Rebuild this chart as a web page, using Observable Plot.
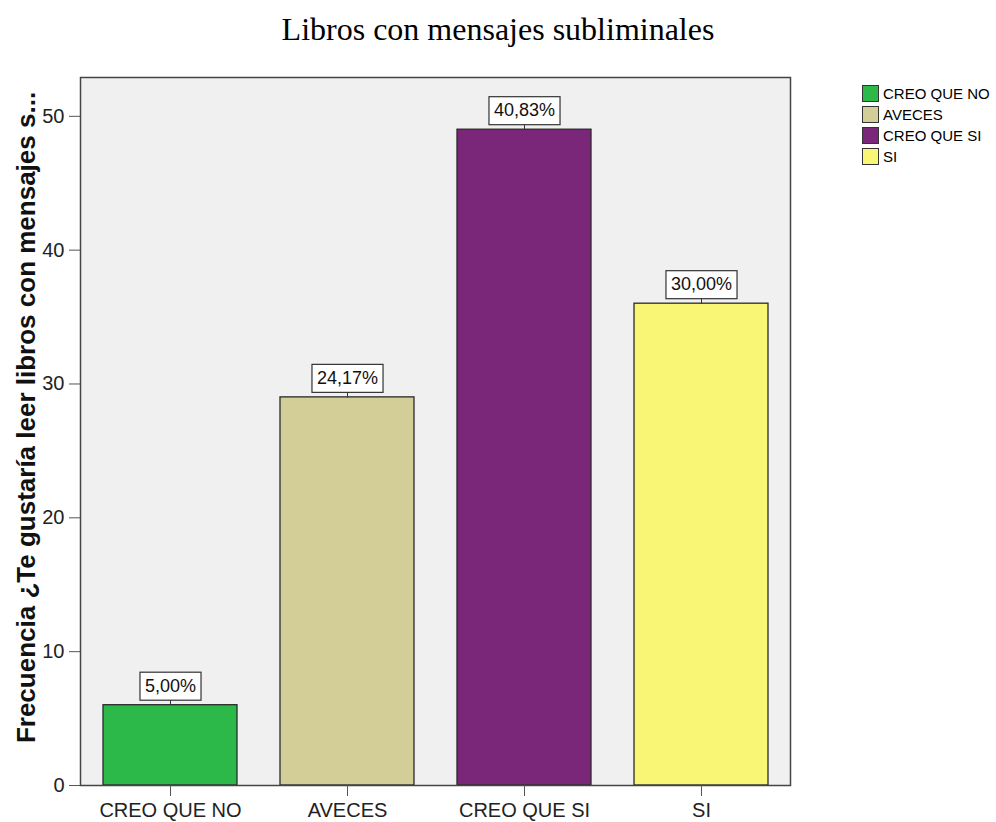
<!DOCTYPE html>
<html>
<head>
<meta charset="utf-8">
<script src="https://cdn.jsdelivr.net/npm/d3@7"></script>
<script src="https://cdn.jsdelivr.net/npm/@observablehq/plot@0.6"></script>
<style>
  body { margin: 0; background: #fff; font-family: "Liberation Sans", Arial, sans-serif; }
  #wrap { position: relative; width: 996px; height: 822px; }
  #title { height: 56px; width: 996px; text-align: center; font-family: "Liberation Serif", "Times New Roman", serif; font-size: 32px; line-height: 32px; padding-top: 13px; box-sizing: border-box; color: #000; }
  #legend { position: absolute; left: 862px; top: 83px; font-size: 15px; color: #000; }
  .item { display: flex; align-items: center; height: 21px; }
  .sw { width: 15px; height: 15px; border: 1px solid #333; margin-right: 4px; }
  svg { display: block; }
</style>
</head>
<body>
<div id="wrap">
  <div id="title">Libros con mensajes subliminales</div>
  <div id="chart"></div>
  <div id="legend"></div>
</div>
<script>
const categories = ["CREO QUE NO", "AVECES", "CREO QUE SI", "SI"];
const frequencies = [6, 29, 49, 36];
const percentLabels = ["5,00%", "24,17%", "40,83%", "30,00%"];
const colors = ["#2db84a", "#d3ce97", "#7b2779", "#f9f676"];
const yTicks = [0, 10, 20, 30, 40, 50];
const yTitle = "Frecuencia ¿Te gustaría leer libros con mensajes s...";

const data = categories.map((c, i) => ({cat: c, value: frequencies[i], label: percentLabels[i]}));

const FONT = '"Liberation Sans", Arial, sans-serif';
const LABEL_FS = 18, BOX_H = 28, GAP = 5, PAD = 5;

function boxedLabels(data, options) {
  return Plot.text(data, {
    ...options,
    render(index, scales, values, dimensions, context, next) {
      const g = next(index, scales, values, dimensions, context);
      const ctx = document.createElement("canvas").getContext("2d");
      ctx.font = `${LABEL_FS}px ${FONT}`;
      const texts = Array.from(g.querySelectorAll("text"));
      texts.forEach((t, j) => {
        const i = index[j];
        const X = values.x[i], Y = values.y[i];
        const w = ctx.measureText(t.textContent).width + 2 * PAD;
        const ns = "http://www.w3.org/2000/svg";
        const r = document.createElementNS(ns, "rect");
        r.setAttribute("x", X - w / 2);
        r.setAttribute("y", Y - BOX_H / 2);
        r.setAttribute("width", w);
        r.setAttribute("height", BOX_H);
        r.setAttribute("fill", "#fff");
        r.setAttribute("stroke", "#333");
        r.setAttribute("stroke-width", 1.2);
        const l = document.createElementNS(ns, "line");
        l.setAttribute("x1", X); l.setAttribute("x2", X);
        l.setAttribute("y1", Y + BOX_H / 2); l.setAttribute("y2", Y + BOX_H / 2 + GAP);
        l.setAttribute("stroke", "#333");
        t.parentNode.insertBefore(r, t);
        t.parentNode.insertBefore(l, t);
      });
      return g;
    }
  });
}

const chart = Plot.plot({
  width: 996,
  height: 766,
  marginLeft: 80,
  marginRight: 206,
  marginTop: 21,
  marginBottom: 37,
  style: {fontFamily: FONT, background: "transparent", overflow: "visible"},
  x: {domain: categories, paddingInner: 0.245, paddingOuter: 0.1225, label: null},
  y: {domain: [0, 52.9], label: null},
  color: {domain: categories, range: colors},
  marks: [
    Plot.frame({fill: "#f0f0f0", stroke: null}),
    Plot.barY(data, {x: "cat", y: "value", fill: "cat", stroke: "#2a2a2a", strokeWidth: 1.3}),
    Plot.frame({stroke: "#444", strokeWidth: 1.5}),
    Plot.axisY({ticks: yTicks, tickSize: 11, tickPadding: 5, fontSize: 20, stroke: "#555", fill: "#222", label: null}),
    Plot.axisX({tickSize: 11, tickPadding: 6, fontSize: 20, stroke: "#555", fill: "#222", label: null}),
    boxedLabels(data, {x: "cat", y: "value", text: "label", dy: -(GAP + BOX_H / 2), fontSize: LABEL_FS, fill: "#111"}),
    Plot.text([yTitle], {frameAnchor: "left", textAnchor: "middle", rotate: -90, dx: -54, dy: -14, fontSize: 26, fontWeight: "bold", fill: "#111"})
  ]
});
document.getElementById("chart").appendChild(chart);

const legend = document.getElementById("legend");
categories.forEach((c, i) => {
  const it = document.createElement("div");
  it.className = "item";
  const sw = document.createElement("div");
  sw.className = "sw";
  sw.style.background = colors[i];
  const tx = document.createElement("span");
  tx.textContent = c;
  it.appendChild(sw); it.appendChild(tx);
  legend.appendChild(it);
});
</script>
</body>
</html>
